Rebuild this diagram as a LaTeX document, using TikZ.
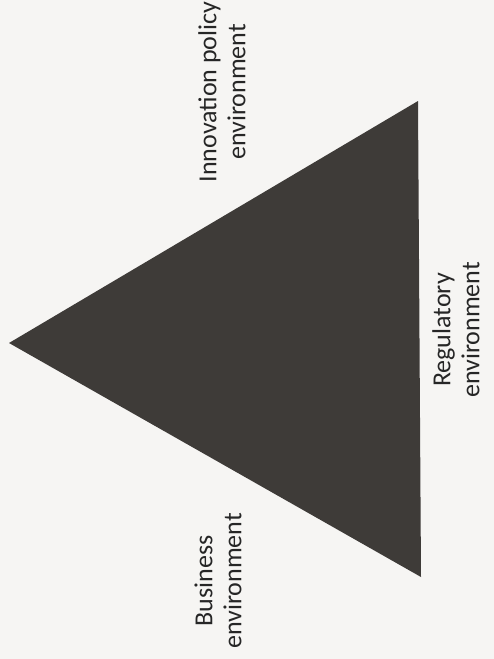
\documentclass[tikz,border=0pt]{standalone}
\usepackage{fontspec}
\setmainfont{Carlito}
\usepackage{tikz}
\usetikzlibrary{positioning}
\definecolor{PaperGrey}{RGB}{246,245,243}
\definecolor{TriDark}{RGB}{62,59,56}

\begin{document}
\begin{tikzpicture}[x=1pt, y=-1pt,
          lbl/.style={font=\fontsize{26}{29}\selectfont, align=center,
                      rotate=90, text=black!85},
          tri/.style={fill=TriDark, draw=none}
        ]
        % page
        \fill[PaperGrey] (0,0) rectangle (494,659);
        \useasboundingbox (0,0) rectangle (494,659);

        % triangle
        \coordinate (apex)  at (9, 343);
        \coordinate (top)   at (418, 101);
        \coordinate (base)  at (421, 577);
        \fill[tri] (apex) -- (top) -- (base) -- cycle;

        % labels
        \node[lbl] (innov) at (222, 92)  {Innovation policy\\environment};
        \node[lbl] (regul) at (456, 330) {Regulatory\\environment};
        \node[lbl] (busin) at (218, 581) {Business\\environment};
      \end{tikzpicture}
\end{document}
